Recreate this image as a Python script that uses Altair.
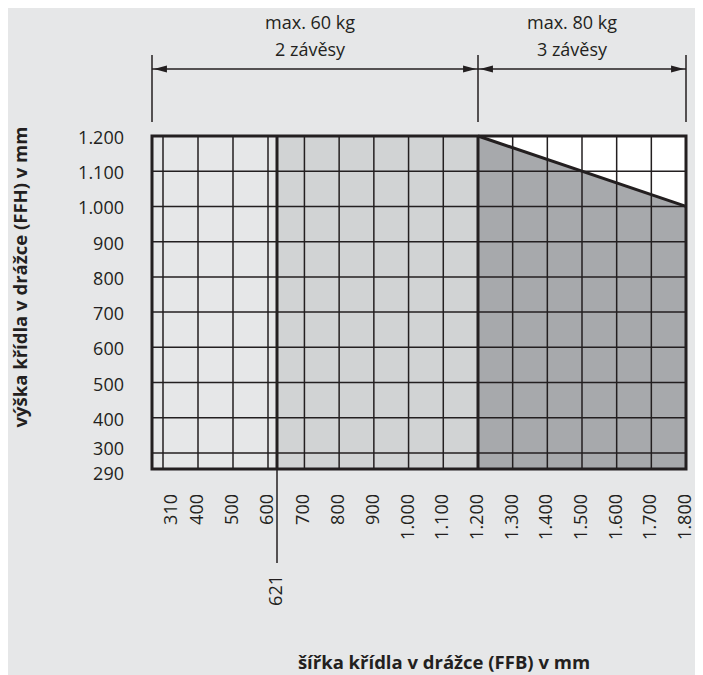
import altair as alt
import pandas as pd

# ---------------- data ----------------
x_ticks = [310, 400, 500, 600, 700, 800, 900, 1000, 1100, 1200,
           1300, 1400, 1500, 1600, 1700, 1800]
x_marker = [621]
y_ticks = [290, 300, 400, 500, 600, 700, 800, 900, 1000, 1100, 1200]
x_min, x_max = 290, 1800
y_min, y_max = 290, 1200

zone_start = [290, 621, 1200]
zone_end = [621, 1200, 1800]
zone_fill = ["#e6e7e8", "#d1d3d4", "#ffffff"]
zone_border = [621, 1200]

diag_x = [1200, 1800]
diag_y = [1200, 1000]

span_start = [290, 1200]
span_end = [1200, 1800]
span_line1 = ["max. 60 kg", "max. 80 kg"]
span_line2 = ["2 závěsy", "3 závěsy"]
bar_x = [290, 1200, 1800]

x_title = "šířka křídla v drážce (FFB) v mm"
y_title = "výška křídla v drážce (FFH) v mm"

# ---------------- style ----------------
INK = "#231f20"
BG = "#e6e7e8"
DARK = "#a7a9ac"
FONT = "Open Sans"
W, H = 534, 333

# the original drawing is schematic (not strictly linear) -> piecewise scales
xs = alt.Scale(domain=[290, 310, 400, 600, 621, 1200, 1800],
               range=[0, 11, 46, 116, 125, 326, W], nice=False, zero=False)
ys = alt.Scale(domain=[290, 300, 1200], range=[H, H - 16, 0], nice=False, zero=False)

# Czech thousands separator: 1.200
fmt = "replace(format(datum.v, ','), ',', '.')"


def X(field):
    return alt.X(field, scale=xs, axis=None)


def Y(field):
    return alt.Y(field, scale=ys, axis=None)


zones = pd.DataFrame({"x0": zone_start, "x1": zone_end, "fill": zone_fill,
                      "y0": [y_min] * 3, "y1": [y_max] * 3})
diag = pd.DataFrame({"x": diag_x, "y": diag_y, "base": [y_min] * len(diag_x)})
frame = pd.DataFrame({"x0": [x_min], "x1": [x_max], "y0": [y_min], "y1": [y_max]})
borders = pd.DataFrame({"x": zone_border, "y0": [y_min] * 2, "y1": [y_max] * 2})
xgrid = pd.DataFrame({"v": x_ticks, "y0": [y_min] * len(x_ticks), "y1": [y_max] * len(x_ticks)})
ygrid = pd.DataFrame({"v": y_ticks, "x0": [x_min] * len(y_ticks), "x1": [x_max] * len(y_ticks)})
marker = pd.DataFrame({"x": x_marker, "label": [str(v) for v in x_marker]})
spans = pd.DataFrame({"s": span_start, "e": span_end, "l1": span_line1, "l2": span_line2})
bars = pd.DataFrame({"x": bar_x})
titles = pd.DataFrame({"t": [x_title], "u": [y_title]})

zone_layer = alt.Chart(zones).mark_rect().encode(
    x=X("x0:Q"), x2="x1:Q", y=Y("y0:Q"), y2="y1:Q",
    fill=alt.Fill("fill:N", scale=None),
)

area_layer = alt.Chart(diag).mark_area(color=DARK, opacity=1).encode(
    x=X("x:Q"), y=Y("y:Q"), y2="base:Q",
)

xgrid_layer = alt.Chart(xgrid).mark_rule(color=INK, strokeWidth=1.5).encode(
    x=X("v:Q"), y=Y("y0:Q"), y2="y1:Q",
)
ygrid_layer = alt.Chart(ygrid).mark_rule(color=INK, strokeWidth=1.5).encode(
    y=Y("v:Q"), x=X("x0:Q"), x2="x1:Q",
)

diag_layer = alt.Chart(diag).mark_line(color=INK, strokeWidth=3).encode(
    x=X("x:Q"), y=Y("y:Q"),
)

border_layer = alt.Chart(borders).mark_rule(color=INK, strokeWidth=3).encode(
    x=X("x:Q"), y=Y("y0:Q"), y2="y1:Q",
)

frame_layer = alt.Chart(frame).mark_rect(fillOpacity=0, stroke=INK, strokeWidth=3).encode(
    x=X("x0:Q"), x2="x1:Q", y=Y("y0:Q"), y2="y1:Q",
)

# tick labels
label_style = dict(font=FONT, fontSize=18, color=INK)
xlab_main = alt.Chart(xgrid).transform_filter("datum.v !== 310").transform_calculate(
    lab=fmt).mark_text(angle=270, align="right", baseline="middle", **label_style).encode(
    x=X("v:Q"), y=alt.value(H + 25), text="lab:N")
xlab_first = alt.Chart(xgrid).transform_filter("datum.v === 310").transform_calculate(
    lab=fmt).mark_text(angle=270, align="right", baseline="middle", dy=9, **label_style).encode(
    x=X("v:Q"), y=alt.value(H + 25), text="lab:N")
ylab_main = alt.Chart(ygrid).transform_filter("datum.v > 300").transform_calculate(
    lab=fmt).mark_text(align="right", baseline="middle", dy=3, **label_style).encode(
    y=Y("v:Q"), x=alt.value(-28), text="lab:N")
ylab_300 = alt.Chart(ygrid).transform_filter("datum.v === 300").transform_calculate(
    lab=fmt).mark_text(align="right", baseline="middle", dy=-3, **label_style).encode(
    y=Y("v:Q"), x=alt.value(-28), text="lab:N")
ylab_290 = alt.Chart(ygrid).transform_filter("datum.v === 290").transform_calculate(
    lab=fmt).mark_text(align="right", baseline="middle", dy=6, **label_style).encode(
    y=Y("v:Q"), x=alt.value(-28), text="lab:N")

marker_line = alt.Chart(marker).mark_rule(color=INK, strokeWidth=1.5).encode(
    x=X("x:Q"), y=alt.value(H), y2=alt.value(H + 94),
)
marker_text = alt.Chart(marker).mark_text(
    angle=270, align="right", baseline="middle", **label_style,
).encode(x=X("x:Q"), y=alt.value(H + 106), text="label:N")

# axis titles
xtitle = alt.Chart(titles).mark_text(
    font=FONT, fontSize=18.5, fontWeight="bold", color=INK, align="center",
    baseline="alphabetic",
).encode(x=alt.value(292), y=alt.value(H + 200), text="t:N")
ytitle = alt.Chart(titles).mark_text(
    font=FONT, fontSize=18.5, fontWeight="bold", color=INK, align="center", baseline="middle",
    angle=270,
).encode(x=alt.value(-131), y=alt.value(141), text="u:N")

# capacity annotations above the grid
bar_layer = alt.Chart(bars).mark_rule(color=INK, strokeWidth=1.5).encode(
    x=X("x:Q"), y=alt.value(-81), y2=alt.value(-14),
)
arrow_line = alt.Chart(spans).mark_rule(color=INK, strokeWidth=1.5).encode(
    x=X("s:Q"), x2="e:Q", y=alt.value(-67),
)
head_left = alt.Chart(spans).mark_point(
    shape="M0.15,0L1.15,-0.27L1.15,0.27Z", size=676, filled=True, color=INK, opacity=1,
    strokeWidth=0,
).encode(x=X("s:Q"), y=alt.value(-67))
head_right = alt.Chart(spans).mark_point(
    shape="M-0.15,0L-1.15,-0.27L-1.15,0.27Z", size=676, filled=True, color=INK, opacity=1,
    strokeWidth=0,
).encode(x=X("e:Q"), y=alt.value(-67))

text1 = alt.Chart(spans).transform_calculate(mid="(datum.s + datum.e) / 2").mark_text(
    align="center", baseline="alphabetic", dx=-10, **label_style,
).encode(x=X("mid:Q"), y=alt.value(-107), text="l1:N")
text2 = alt.Chart(spans).transform_calculate(mid="(datum.s + datum.e) / 2").mark_text(
    align="center", baseline="alphabetic", dx=-10, **label_style,
).encode(x=X("mid:Q"), y=alt.value(-80), text="l2:N")

chart = alt.layer(
    zone_layer, area_layer, xgrid_layer, ygrid_layer, diag_layer, border_layer, frame_layer,
    xlab_main, xlab_first, ylab_main, ylab_300, ylab_290, marker_line, marker_text,
    xtitle, ytitle,
    bar_layer, arrow_line, head_left, head_right, text1, text2,
).properties(
    width=W, height=H,
    padding={"left": 144, "top": 128, "right": 9, "bottom": 206},
    autosize=alt.AutoSizeParams(type="none"),
).configure(
    background=BG, font=FONT,
).configure_view(stroke=None)

chart.save("out.html", embed_options={"renderer": "svg", "actions": False})
